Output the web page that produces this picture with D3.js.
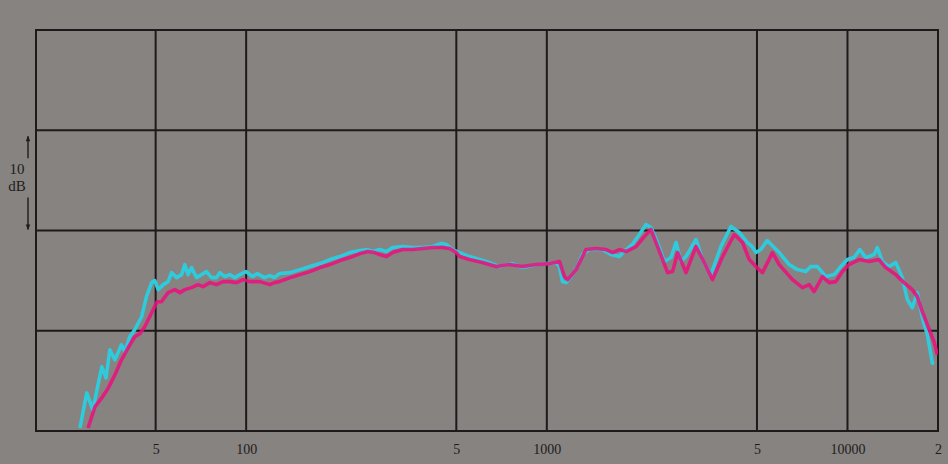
<!DOCTYPE html>
<html>
<head>
<meta charset="utf-8">
<script src="https://cdn.jsdelivr.net/npm/d3@7"></script>
<style>
  html, body { margin: 0; padding: 0; background: #878381; }
  svg { display: block; }
  text { font-family: "Liberation Serif", "DejaVu Serif", serif; fill: #1e1c1c; }
</style>
</head>
<body>
<div id="chart"></div>
<script>
const cyanData = [
  [28, -19.7], [29.5, -16.2], [30.9, -17.9], [33.1, -13.6], [34.2, -14.7], [35.2, -11.9],
  [36.6, -12.9], [38.5, -11.4], [39.5, -12.1], [41, -10.6], [42.6, -9.9], [44.9, -8.6],
  [46.6, -6.6], [48.5, -5.2], [49.7, -5.0], [51, -5.9], [53, -5.4], [55, -5.1],
  [56.5, -4.2], [58.7, -4.7], [61, -4.4], [62.5, -3.4], [64.1, -4.4], [65.8, -3.7],
  [68.4, -4.7], [71, -4.4], [73.8, -4.1], [76.7, -4.7], [79.7, -4.7], [81.7, -4.2],
  [84.9, -4.6], [88.2, -4.4], [91.7, -4.7], [95.2, -4.4], [100, -4.1], [105, -4.6],
  [109, -4.3], [115, -4.7], [120, -4.5], [124, -4.7], [129, -4.3], [140, -4.2],
  [151, -3.9], [163, -3.6], [176, -3.3], [190, -2.9], [205, -2.6], [221, -2.2],
  [239, -2.0], [254, -1.9], [263, -2.1], [278, -1.9], [293, -2.1], [307, -1.7],
  [331, -1.6], [358, -1.7], [386, -1.7], [417, -1.6], [446, -1.3], [463, -1.4],
  [486, -1.9], [513, -2.2], [553, -2.6], [597, -2.9], [645, -3.2], [696, -3.6],
  [769, -3.3], [830, -3.7], [896, -3.5], [995, -3.3], [1074, -3.2], [1102, -3.6],
  [1127, -5.1], [1159, -5.2], [1204, -4.6], [1264, -3.6], [1313, -2.4], [1385, -1.9],
  [1530, -1.9], [1635, -2.4], [1742, -2.6], [1834, -1.9], [1925, -1.4], [2031, -0.4],
  [2138, 0.6], [2220, 0.3], [2336, -1.2], [2459, -3.1], [2588, -2.7], [2690, -1.2],
  [2794, -3.1], [2903, -2.6], [3134, -0.9], [3296, -2.9], [3514, -4.4], [3794, -1.6],
  [4096, 0.4], [4366, -0.2], [4650, -1.2], [4820, -1.6], [4960, -2.2], [5152, -1.9],
  [5406, -1.0], [5928, -2.2], [6398, -3.4], [6818, -3.9], [7270, -4.1], [7554, -3.6],
  [7944, -3.6], [8472, -4.6], [9028, -4.4], [9500, -3.6], [9994, -2.9], [10518, -2.7],
  [10990, -1.9], [11506, -2.7], [12260, -2.4], [12572, -1.7], [13062, -3.1], [13750, -3.6],
  [14470, -3.2], [15222, -4.7], [15814, -6.9], [16430, -7.7], [17070, -6.2], [17736, -8.7],
  [18432, -10.4], [19152, -13.2], [19400, -13.3]
];

const magentaData = [
  [29.8, -19.7], [31.4, -17.6], [33.1, -16.7], [34.8, -15.7], [36.6, -14.4], [38.5, -12.9],
  [40.5, -11.7], [42.6, -10.6], [44.3, -10.3], [46, -9.6], [48.5, -8.2], [50.6, -7.1],
  [52.3, -7.1], [55, -6.2], [57.9, -5.9], [60.2, -6.2], [62.5, -5.9], [65.8, -5.7],
  [69.2, -5.4], [71.9, -5.6], [75.7, -5.2], [79.7, -5.4], [83.8, -5.1], [88.2, -5.1],
  [92.9, -5.2], [97.7, -4.9], [102.8, -5.1], [111, -5.1], [120, -5.4], [124, -5.2],
  [129, -5.1], [140, -4.7], [151, -4.4], [163, -4.1], [176, -3.7], [190, -3.4],
  [205, -3.0], [221, -2.7], [239, -2.3], [254, -2.1], [267, -2.2], [278, -2.4],
  [293, -2.6], [307, -2.2], [331, -1.9], [358, -1.9], [386, -1.8], [417, -1.7],
  [450, -1.7], [475, -1.8], [500, -2.2], [513, -2.6], [553, -2.9], [611, -3.2],
  [679, -3.6], [751, -3.4], [830, -3.6], [922, -3.4], [1020, -3.3], [1102, -3.1],
  [1144, -4.6], [1174, -4.9], [1251, -3.9], [1350, -1.9], [1458, -1.8], [1573, -1.9],
  [1655, -2.2], [1742, -1.9], [1834, -2.1], [1980, -1.6], [2110, -0.6], [2220, 0.1],
  [2336, -1.6], [2522, -4.2], [2620, -4.1], [2723, -2.2], [2903, -4.2], [3134, -1.6],
  [3340, -3.2], [3558, -4.9], [3842, -2.6], [4202, -0.4], [4476, -1.2], [4712, -2.9],
  [4960, -3.6], [5216, -4.2], [5630, -2.2], [5928, -3.4], [6560, -4.9], [7084, -5.7],
  [7456, -5.4], [7746, -6.1], [8254, -4.6], [8690, -5.2], [9144, -5.1], [9618, -4.1],
  [10122, -3.4], [10926, -2.9], [11798, -3.1], [12736, -2.9], [13406, -3.7], [14470, -4.4],
  [15420, -5.2], [16430, -5.9], [17070, -6.6], [17736, -8.1], [18432, -9.4], [19402, -11.1],
  [19898, -12.4]
];

const gridFreqs = [50, 100, 500, 1000, 5000, 10000];
const tickFreqs = [50, 100, 500, 1000, 5000, 10000, 20000];
const tickLabels = ["5", "100", "5", "1000", "5", "10000", "2"];
const gridDb = [-10, 0, 10];

const W = 948, H = 464;
const plotLeft = 36, plotRight = 938, plotTop = 30, plotBottom = 431;

const svg = d3.select("#chart")
  .append("svg")
    .attr("width", W)
    .attr("height", H);

const x = d3.scaleLog().domain([20, 20000]).range([plotLeft, plotRight]);
const y = d3.scaleLinear().domain([-20, 20]).range([plotBottom, plotTop]);

svg.append("clipPath").attr("id", "plot")
  .append("rect")
    .attr("x", plotLeft).attr("y", plotTop)
    .attr("width", plotRight - plotLeft).attr("height", plotBottom - plotTop);

// grid
svg.selectAll(".vgrid")
  .data(gridFreqs)
  .join("line")
    .attr("x1", d => x(d)).attr("x2", d => x(d))
    .attr("y1", plotTop).attr("y2", plotBottom)
    .attr("stroke", "#1c1a1a").attr("stroke-width", 2);

svg.selectAll(".hgrid")
  .data(gridDb)
  .join("line")
    .attr("x1", plotLeft).attr("x2", plotRight)
    .attr("y1", d => y(d)).attr("y2", d => y(d))
    .attr("stroke", "#1c1a1a").attr("stroke-width", 2);

svg.append("rect")
  .attr("x", plotLeft).attr("y", plotTop)
  .attr("width", plotRight - plotLeft).attr("height", plotBottom - plotTop)
  .attr("fill", "none")
  .attr("stroke", "#1c1a1a").attr("stroke-width", 2);

// curves
const line = d3.line()
  .x(d => x(d[0]))
  .y(d => y(d[1]));

const curves = svg.append("g").attr("clip-path", "url(#plot)");

curves.append("path")
  .datum(cyanData)
  .attr("d", line)
  .attr("fill", "none")
  .attr("stroke", "#2fcadc")
  .attr("stroke-width", 3.6)
  .attr("stroke-linejoin", "round");

curves.append("path")
  .datum(magentaData)
  .attr("d", line)
  .attr("fill", "none")
  .attr("stroke", "#ec0f7d")
  .attr("stroke-width", 3.6)
  .attr("stroke-linejoin", "round")
  .attr("opacity", 0.86);

// frequency labels
svg.append("g")
  .attr("transform", `translate(0,${plotBottom})`)
  .call(d3.axisBottom(x)
    .tickValues(tickFreqs)
    .tickFormat((d, i) => tickLabels[i])
    .tickSize(0)
    .tickPadding(13))
  .call(g => g.select(".domain").remove())
  .call(g => g.selectAll("text")
    .attr("fill", "#1e1c1c")
    .style("font-family", "'Liberation Serif', serif")
    .style("font-size", "14px"));

// 10 dB scale marker
const marker = svg.append("g");
marker.append("text")
  .attr("x", 17).attr("y", y(5.6))
  .attr("text-anchor", "middle")
  .style("font-size", "15px")
  .text("10");
marker.append("text")
  .attr("x", 17).attr("y", y(3.9))
  .attr("text-anchor", "middle")
  .style("font-size", "15px")
  .text("dB");

svg.append("defs").append("marker")
  .attr("id", "head")
  .attr("viewBox", "0 0 10 10")
  .attr("refX", 9).attr("refY", 5)
  .attr("markerWidth", 6).attr("markerHeight", 4)
  .attr("orient", "auto")
  .append("path")
    .attr("d", "M0,1 L10,5 L0,9 Z")
    .attr("fill", "#1e1c1c");

marker.append("line")
  .attr("x1", 28).attr("x2", 28)
  .attr("y1", y(7.2)).attr("y2", y(9.4))
  .attr("stroke", "#1e1c1c").attr("stroke-width", 1.4)
  .attr("marker-end", "url(#head)");
marker.append("line")
  .attr("x1", 28).attr("x2", 28)
  .attr("y1", y(3.3)).attr("y2", y(0.1))
  .attr("stroke", "#1e1c1c").attr("stroke-width", 1.4)
  .attr("marker-end", "url(#head)");
</script>
</body>
</html>
